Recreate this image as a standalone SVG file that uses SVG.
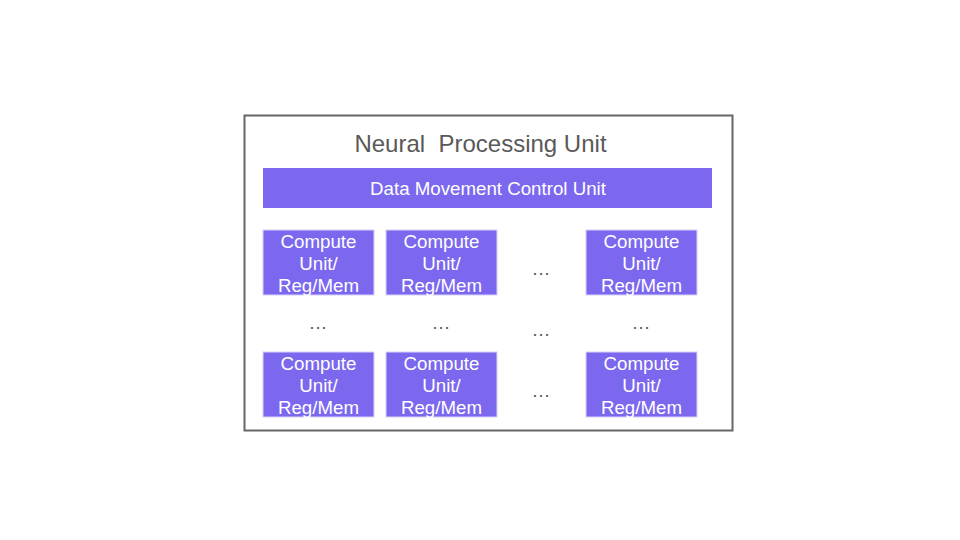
<svg xmlns="http://www.w3.org/2000/svg" width="960" height="540" viewBox="0 0 960 540">
<style>
.cu{fill:#7B68EE;stroke:#D8D2FA;stroke-width:1}
.ct{font-family:"Liberation Sans",Arial,sans-serif;font-size:18.7px;fill:#FFFFFF;text-anchor:middle}
.el{font-family:"Liberation Sans",Arial,sans-serif;font-size:19px;fill:#595959;text-anchor:middle}
</style>
<rect width="960" height="540" fill="#FFFFFF"/>
<g id="npu">
<rect x="244.5" y="115.5" width="488" height="315" fill="#FFFFFF" stroke="#666666" stroke-width="2"/>
<text x="480.5" y="151.5" font-family="'Liberation Sans',Arial,sans-serif" font-size="24" fill="#595959" text-anchor="middle" xml:space="preserve">Neural  Processing Unit</text>
</g>
<g id="dmcu">
<rect x="263" y="168" width="449" height="40" fill="#7B68EE"/>
<text x="488" y="195" font-family="'Liberation Sans',Arial,sans-serif" font-size="18.7" fill="#FFFFFF" text-anchor="middle">Data Movement Control Unit</text>
</g>
<g id="cu11"><rect class="cu" x="263" y="230" width="111" height="65"/><text class="ct" x="318.5" y="247.5">Compute</text><text class="ct" x="318.5" y="269.5">Unit/</text><text class="ct" x="318.5" y="291.5">Reg/Mem</text></g>
<g id="cu12"><rect class="cu" x="386" y="230" width="111" height="65"/><text class="ct" x="441.5" y="247.5">Compute</text><text class="ct" x="441.5" y="269.5">Unit/</text><text class="ct" x="441.5" y="291.5">Reg/Mem</text></g>
<g id="cu13"><rect class="cu" x="586" y="230" width="111" height="65"/><text class="ct" x="641.5" y="247.5">Compute</text><text class="ct" x="641.5" y="269.5">Unit/</text><text class="ct" x="641.5" y="291.5">Reg/Mem</text></g>
<g id="cu21"><rect class="cu" x="263" y="352" width="111" height="65"/><text class="ct" x="318.5" y="369.5">Compute</text><text class="ct" x="318.5" y="391.5">Unit/</text><text class="ct" x="318.5" y="413.5">Reg/Mem</text></g>
<g id="cu22"><rect class="cu" x="386" y="352" width="111" height="65"/><text class="ct" x="441.5" y="369.5">Compute</text><text class="ct" x="441.5" y="391.5">Unit/</text><text class="ct" x="441.5" y="413.5">Reg/Mem</text></g>
<g id="cu23"><rect class="cu" x="586" y="352" width="111" height="65"/><text class="ct" x="641.5" y="369.5">Compute</text><text class="ct" x="641.5" y="391.5">Unit/</text><text class="ct" x="641.5" y="413.5">Reg/Mem</text></g>
<g id="ellipses">
<text class="el" x="541" y="275">…</text>
<text class="el" x="318" y="329">…</text>
<text class="el" x="441" y="329">…</text>
<text class="el" x="541" y="336">…</text>
<text class="el" x="641" y="329">…</text>
<text class="el" x="541" y="397">…</text>
</g>
<g id="connectors"/>
</svg>
